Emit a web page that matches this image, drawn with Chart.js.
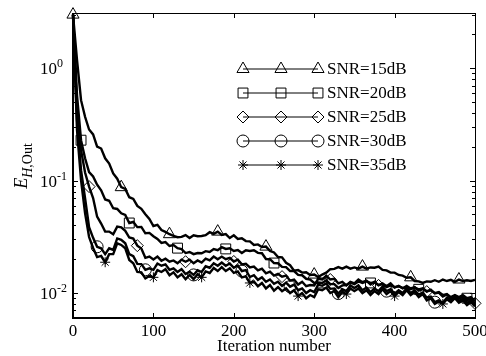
<!DOCTYPE html>
<html>
<head>
<meta charset="utf-8">
<script src="https://cdn.jsdelivr.net/npm/chart.js@4.4.1/dist/chart.umd.min.js"></script>
<style>
  html, body { margin: 0; padding: 0; background: #fff; }
  canvas { display: block; }
</style>
</head>
<body>
<canvas id="errChart" width="486" height="356"></canvas>
<script>
// iteration grid (every 5 iterations)
const iterations = [
    0, 5, 10, 15, 20, 25, 30, 35, 40, 45,
    50, 55, 60, 65, 70, 75, 80, 85, 90, 95,
    100, 105, 110, 115, 120, 125, 130, 135, 140, 145,
    150, 155, 160, 165, 170, 175, 180, 185, 190, 195,
    200, 205, 210, 215, 220, 225, 230, 235, 240, 245,
    250, 255, 260, 265, 270, 275, 280, 285, 290, 295,
    300, 305, 310, 315, 320, 325, 330, 335, 340, 345,
    350, 355, 360, 365, 370, 375, 380, 385, 390, 395,
    400, 405, 410, 415, 420, 425, 430, 435, 440, 445,
    450, 455, 460, 465, 470, 475, 480, 485, 490, 495, 500
];

const snr15 = [
    3.0, 1.18, 0.52, 0.37, 0.285, 0.258, 0.201, 0.193, 0.158, 0.142,
    0.116, 0.104, 0.0875, 0.0845, 0.0712, 0.0688, 0.0596, 0.0562, 0.0503, 0.0456,
    0.0395, 0.0405, 0.0364, 0.0350, 0.0334, 0.0323, 0.0314, 0.0316, 0.0328, 0.0309,
    0.0327, 0.0320, 0.0322, 0.0327, 0.0348, 0.0336, 0.0352, 0.0329, 0.0335, 0.0309,
    0.0326, 0.0303, 0.0307, 0.0290, 0.0288, 0.0268, 0.0271, 0.0257, 0.0259, 0.0237,
    0.0230, 0.0209, 0.0208, 0.0186, 0.0177, 0.0158, 0.0160, 0.0152, 0.0153, 0.0145,
    0.0146, 0.0139, 0.0146, 0.0152, 0.0163, 0.0164, 0.0170, 0.0165, 0.0172, 0.0165,
    0.0169, 0.0165, 0.0172, 0.0165, 0.0169, 0.0168, 0.0172, 0.0161, 0.0159, 0.0152,
    0.0152, 0.0145, 0.0143, 0.0137, 0.0138, 0.0128, 0.0127, 0.0123, 0.0127, 0.0126,
    0.0130, 0.0126, 0.0132, 0.0128, 0.0131, 0.0126, 0.0132, 0.0128, 0.0130, 0.0128, 0.0131
];

const snr20 = [
    3.0, 0.575, 0.229, 0.158, 0.119, 0.109, 0.092, 0.082, 0.0680, 0.0662,
    0.0568, 0.0560, 0.0512, 0.0495, 0.0420, 0.0429, 0.0386, 0.0388, 0.0340, 0.0343,
    0.0320, 0.0303, 0.0279, 0.0284, 0.0262, 0.0267, 0.0251, 0.0246, 0.0227, 0.0232,
    0.0222, 0.0227, 0.0226, 0.0236, 0.0232, 0.0246, 0.0241, 0.0256, 0.0247, 0.0250,
    0.0237, 0.0241, 0.0227, 0.0240, 0.0237, 0.0240, 0.0228, 0.0226, 0.0201, 0.0200,
    0.0185, 0.0184, 0.0171, 0.0170, 0.0157, 0.0157, 0.0145, 0.0144, 0.0134, 0.0132,
    0.0123, 0.0124, 0.0123, 0.0130, 0.0120, 0.0120, 0.0111, 0.0117, 0.0118, 0.0124,
    0.0120, 0.0127, 0.0123, 0.0127, 0.0123, 0.0124, 0.0118, 0.0120, 0.0113, 0.0117,
    0.0113, 0.0115, 0.0111, 0.0112, 0.0108, 0.0112, 0.0108, 0.0110, 0.0104, 0.0106,
    0.0100, 0.0102, 0.0096, 0.0098, 0.0092, 0.0096, 0.0092, 0.0096, 0.0090, 0.0092, 0.0085
];

const snr25 = [
    3.0, 0.423, 0.187, 0.118, 0.0885, 0.070, 0.0478, 0.0415, 0.0352, 0.0352,
    0.0333, 0.0390, 0.0384, 0.0358, 0.0312, 0.0305, 0.0264, 0.0249, 0.0206, 0.0211,
    0.0199, 0.0211, 0.0194, 0.0202, 0.0190, 0.0195, 0.0184, 0.0198, 0.0190, 0.0198,
    0.0184, 0.0195, 0.0187, 0.0202, 0.0195, 0.0211, 0.0200, 0.0211, 0.0200, 0.0206,
    0.0191, 0.0198, 0.0180, 0.0182, 0.0169, 0.0172, 0.0159, 0.0165, 0.0150, 0.0155,
    0.0143, 0.0148, 0.0140, 0.0143, 0.0129, 0.0132, 0.0119, 0.0126, 0.0115, 0.0118,
    0.0117, 0.0134, 0.0132, 0.0143, 0.0132, 0.0134, 0.0122, 0.0126, 0.0117, 0.0126,
    0.0122, 0.0132, 0.0125, 0.0129, 0.0119, 0.0126, 0.0117, 0.0122, 0.0115, 0.0122,
    0.0112, 0.0116, 0.0110, 0.0116, 0.0110, 0.0113, 0.0105, 0.0109, 0.0103, 0.0107,
    0.0099, 0.0101, 0.0093, 0.0097, 0.0089, 0.0095, 0.0089, 0.0093, 0.0086, 0.0089, 0.0081
];

const snr30 = [
    3.0, 0.345, 0.124, 0.0700, 0.0385, 0.0310, 0.0258, 0.0250, 0.0222, 0.0250,
    0.0242, 0.0306, 0.0297, 0.0277, 0.0222, 0.0213, 0.0182, 0.0181, 0.0161, 0.0166,
    0.0161, 0.0183, 0.0175, 0.0180, 0.0161, 0.0166, 0.0154, 0.0163, 0.0148, 0.0155,
    0.0145, 0.0160, 0.0154, 0.0173, 0.0168, 0.0184, 0.0175, 0.0187, 0.0175, 0.0183,
    0.0168, 0.0176, 0.0157, 0.0160, 0.0139, 0.0144, 0.0131, 0.0138, 0.0126, 0.0132,
    0.0121, 0.0126, 0.0116, 0.0124, 0.0114, 0.0119, 0.0106, 0.0110, 0.0100, 0.0106,
    0.0102, 0.0119, 0.0116, 0.0122, 0.0109, 0.0110, 0.0099, 0.0108, 0.0104, 0.0117,
    0.0111, 0.0117, 0.0106, 0.0112, 0.0102, 0.0110, 0.0104, 0.0114, 0.0104, 0.0108,
    0.0099, 0.0106, 0.0100, 0.0110, 0.0100, 0.0106, 0.0097, 0.0101, 0.0091, 0.0093,
    0.0083, 0.0086, 0.0082, 0.0091, 0.0087, 0.0093, 0.0085, 0.0089, 0.0082, 0.0086, 0.0079
];

const snr35 = [
    3.0, 0.281, 0.101, 0.0515, 0.0315, 0.0252, 0.0209, 0.0214, 0.0188, 0.0222,
    0.0222, 0.0277, 0.0268, 0.0250, 0.0197, 0.0184, 0.0154, 0.0153, 0.0135, 0.0142,
    0.0138, 0.0160, 0.0154, 0.0163, 0.0144, 0.0153, 0.0138, 0.0147, 0.0133, 0.0145,
    0.0133, 0.0147, 0.0138, 0.0156, 0.0151, 0.0167, 0.0157, 0.0170, 0.0157, 0.0166,
    0.0151, 0.0156, 0.0138, 0.0141, 0.0123, 0.0127, 0.0115, 0.0123, 0.0110, 0.0118,
    0.0105, 0.0113, 0.0104, 0.0110, 0.0100, 0.0106, 0.0094, 0.0100, 0.0090, 0.0096,
    0.0092, 0.0108, 0.0106, 0.0112, 0.0100, 0.0104, 0.0092, 0.0102, 0.0098, 0.0110,
    0.0104, 0.0110, 0.0100, 0.0106, 0.0096, 0.0104, 0.0098, 0.0108, 0.0098, 0.0104,
    0.0094, 0.0102, 0.0096, 0.0106, 0.0096, 0.0102, 0.0092, 0.0098, 0.0086, 0.0090,
    0.0080, 0.0084, 0.0080, 0.0088, 0.0083, 0.0090, 0.0082, 0.0086, 0.0078, 0.0083, 0.0076
];

const seriesNames = ['SNR=15dB', 'SNR=20dB', 'SNR=25dB', 'SNR=30dB', 'SNR=35dB'];
const seriesValues = [snr15, snr20, snr25, snr30, snr35];
const markerStyles = ['triangle', 'rect', 'rectRot', 'circle', 'star'];
const markerRadii = [7, 7, 6, 6, 5];
const markerOffsets = [0, 10, 20, 30, 40];

const xTickValues = [0, 100, 200, 300, 400, 500];
const xTickLabels = ['0', '100', '200', '300', '400', '500'];
const yTickValues = [0.01, 0.1, 1];
const yTickExps = ['-2', '-1', '0'];

const serif = '"Liberation Serif", "Times New Roman", serif';

const datasets = seriesValues.map(function (vals, k) {
    return {
        label: seriesNames[k],
        data: iterations.map(function (it, i) { return { x: it, y: vals[i] }; }),
        borderColor: '#000',
        borderWidth: 2.4,
        backgroundColor: 'rgba(0,0,0,0)',
        pointStyle: markerStyles[k],
        pointBorderColor: '#000',
        pointBackgroundColor: 'rgba(0,0,0,0)',
        pointBorderWidth: 1,
        pointRadius: function (c) {
            const it = iterations[c.dataIndex];
            return (it >= markerOffsets[k] && (it - markerOffsets[k]) % 60 === 0) ? markerRadii[k] : 0;
        },
        tension: 0,
        clip: false
    };
});

// axes box, inward ticks, tick labels, y title and the matlab-like legend
const decorPlugin = {
    id: 'decor',
    afterDraw(chart) {
        const ctx = chart.ctx;
        const xs = chart.scales.x;
        const ys = chart.scales.y;
        const a = chart.chartArea;
        ctx.save();
        ctx.strokeStyle = '#000';
        ctx.fillStyle = '#000';

        // box
        ctx.lineWidth = 1;
        ctx.beginPath();
        ctx.moveTo(a.left, a.top + 0.5);
        ctx.lineTo(a.right + 0.5, a.top + 0.5);
        ctx.lineTo(a.right + 0.5, a.bottom);
        ctx.stroke();
        ctx.lineWidth = 2;
        ctx.beginPath();
        ctx.moveTo(a.left, a.top);
        ctx.lineTo(a.left, a.bottom);
        ctx.lineTo(a.right + 1, a.bottom);
        ctx.stroke();

        // x ticks
        ctx.lineWidth = 1;
        xTickValues.forEach(function (v) {
            const px = Math.round(xs.getPixelForValue(v)) + 0.5;
            ctx.beginPath();
            ctx.moveTo(px, a.bottom); ctx.lineTo(px, a.bottom - 5);
            ctx.moveTo(px, a.top); ctx.lineTo(px, a.top + 5);
            ctx.stroke();
        });

        // y ticks (log minor + major)
        for (let d = -3; d <= 0; d++) {
            for (let m = 1; m <= 9; m++) {
                const v = m * Math.pow(10, d);
                if (v < ys.min || v > ys.max) continue;
                const py = Math.round(ys.getPixelForValue(v)) + 0.5;
                const len = m === 1 ? 5 : 3;
                ctx.beginPath();
                ctx.moveTo(a.left, py); ctx.lineTo(a.left + len, py);
                ctx.moveTo(a.right, py); ctx.lineTo(a.right - len, py);
                ctx.stroke();
            }
        }

        // x tick labels
        ctx.font = '17px ' + serif;
        ctx.textAlign = 'center';
        ctx.textBaseline = 'alphabetic';
        xTickValues.forEach(function (v, i) {
            ctx.fillText(xTickLabels[i], xs.getPixelForValue(v), 336);
        });
        ctx.fillText('Iteration number', (a.left + a.right) / 2, 351);

        // y tick labels 10^n
        ctx.textAlign = 'left';
        yTickValues.forEach(function (v, i) {
            const py = ys.getPixelForValue(v);
            ctx.font = '17px ' + serif;
            ctx.fillText('10', 40, py + 6);
            const w = ctx.measureText('10').width;
            ctx.font = '12px ' + serif;
            ctx.fillText(yTickExps[i], 40 + w, py - 1);
        });

        // y title E_{H,Out}
        ctx.save();
        ctx.translate(27, 166);
        ctx.rotate(-Math.PI / 2);
        ctx.font = 'italic 18px ' + serif;
        const wE = ctx.measureText('E').width;
        ctx.font = 'italic 14px ' + serif;
        const wH = ctx.measureText('H').width;
        ctx.font = '14px ' + serif;
        const wO = ctx.measureText(',Out').width;
        let tx = -(wE + wH + wO) / 2;
        ctx.font = 'italic 18px ' + serif;
        ctx.fillText('E', tx, 0);
        tx += wE;
        ctx.font = 'italic 14px ' + serif;
        ctx.fillText('H', tx, 5);
        tx += wH;
        ctx.font = '14px ' + serif;
        ctx.fillText(',Out', tx, 5);
        ctx.restore();

        // legend: line with three markers
        seriesNames.forEach(function (name, k) {
            const ly = 69 + k * 24;
            ctx.lineWidth = 1;
            ctx.strokeStyle = '#000';
            ctx.beginPath();
            ctx.moveTo(243, ly); ctx.lineTo(318, ly);
            ctx.stroke();
            [243, 281, 318].forEach(function (mx) {
                ctx.fillStyle = 'rgba(0,0,0,0)';
                Chart.helpers.drawPoint(ctx, {
                    pointStyle: markerStyles[k],
                    radius: markerRadii[k],
                    rotation: 0,
                    borderWidth: 1
                }, mx, ly);
            });
            ctx.fillStyle = '#000';
            ctx.font = '17px ' + serif;
            ctx.textAlign = 'left';
            ctx.textBaseline = 'middle';
            ctx.fillText(name, 327, ly + 1);
            ctx.textBaseline = 'alphabetic';
        });

        ctx.restore();
    }
};

const chartCtx = document.getElementById('errChart').getContext('2d');

new Chart(chartCtx, {
    type: 'line',
    data: { datasets: datasets },
    options: {
        responsive: false,
        animation: false,
        layout: { padding: { left: 73, right: 11, top: 13, bottom: 38 } },
        plugins: {
            legend: { display: false },
            tooltip: { enabled: false }
        },
        scales: {
            x: { type: 'linear', min: 0, max: 500, display: false },
            y: { type: 'logarithmic', min: 0.006, max: 3.1, display: false }
        }
    },
    plugins: [decorPlugin]
});
</script>
</body>
</html>
